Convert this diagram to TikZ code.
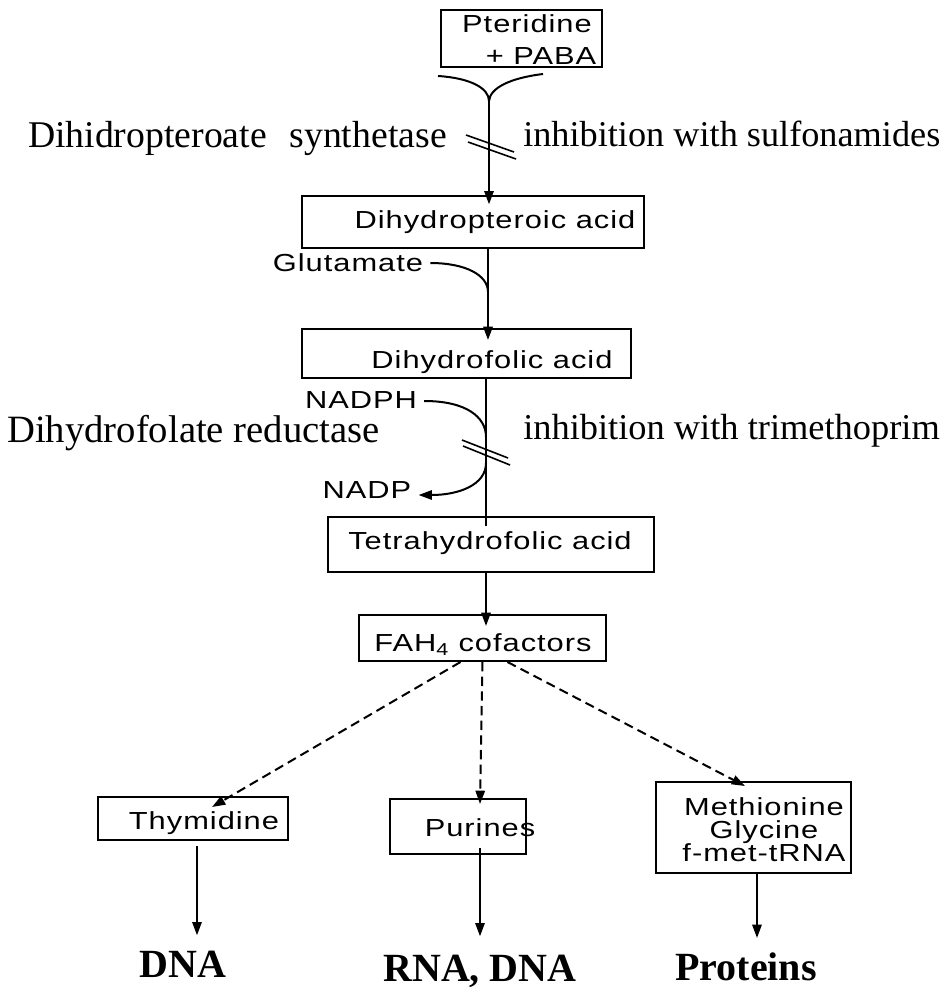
\documentclass[tikz,border=0pt]{standalone}
\usepackage{fontspec}
\setmainfont{Liberation Serif}
\newfontfamily\labfont[FakeStretch=1.25,LetterSpace=4]{Liberation Sans}
\usetikzlibrary{arrows.meta,calc}
\begin{document}
\begin{tikzpicture}[x=0.75pt,y=-0.75pt,
  box/.style={draw,line width=1.5pt,inner sep=0pt},
  lab/.style={font=\labfont\fontsize{18.5}{17.25}\selectfont,inner sep=0pt,align=center},
  big/.style={font=\fontsize{28.3}{32}\selectfont,inner sep=0pt},
  prod/.style={font=\bfseries\fontsize{30}{34}\selectfont,inner sep=0pt},
  con/.style={line width=1.5pt},
  arr/.style={con,-{Triangle[length=10pt,width=7pt]}},
  dsh/.style={arr,dash pattern=on 7pt off 4pt},
  slash/.style={line width=1.2pt}]
\fill[white] (0,0) rectangle (945,990);
\useasboundingbox (0,0) rectangle (945,990);

% boxes
\node[box,minimum width=120.75pt,minimum height=42.75pt] (b1) at (521.5,38.5) {};
\node[box,minimum width=256.5pt,minimum height=39pt] (b2) at (473,222) {};
\node[box,minimum width=246.75pt,minimum height=36.75pt] (b3) at (466.5,353.5) {};
\node[box,minimum width=244.5pt,minimum height=41.25pt] (b4) at (491,544.5) {};
\node[box,minimum width=185.25pt,minimum height=34.5pt] (b5) at (482.5,638) {};
\node[box,minimum width=142.5pt,minimum height=32.25pt] (b6) at (193,818.5) {};
\node[box,minimum width=102pt,minimum height=41.25pt] (b7) at (458,826.5) {};
\node[box,minimum width=146.25pt,minimum height=68.25pt] (b8) at (753.5,827.5) {};

% box texts
\node[lab] (t1a) at (527,24) {Pteridine};
\node[lab] (t1b) at (541,56) {+ PABA};
\node[lab] (t2) at (495,222) {Dihydropteroic acid};
\node[lab] (t3) at (492,362) {Dihydrofolic acid};
\node[lab] (t4) at (490,543) {Tetrahydrofolic acid};
\node[lab] (t5) at (483,645) {FAH\textsubscript{4} cofactors};
\node[lab] (t6) at (204,823) {Thymidine};
\node[lab] (t7) at (480,828) {Purines};
\node[lab] (t8) at (764,830) {Methionine\\Glycine\\f-met-tRNA};

% side labels
\node[lab] (gl) at (348,263) {Glutamate};
\node[lab] (np) at (361,400) {NADPH};
\node[lab] (nd) at (367,490) {NADP};

\node[big,anchor=mid east] (syn) at (447,144) {Dihidropteroate\hspace{0.6em}synthetase};
\node[big,anchor=mid west,font=\fontsize{27.2}{32}\selectfont] (inh1) at (523,143) {inhibition with sulfonamides};
\node[big,anchor=mid east,font=\fontsize{29}{32}\selectfont] (red) at (380,439) {Dihydrofolate reductase};
\node[big,anchor=mid west,font=\fontsize{27.3}{32}\selectfont] (inh2) at (523,436) {inhibition with trimethoprim};

\node[prod,anchor=base] (p1) at (183,977) {DNA};
\node[prod,anchor=base] (p2) at (480,981) {RNA, DNA};
\node[prod,anchor=base] (p3) at (746,980) {Proteins};

% Y junction
\coordinate (yj) at (489,101);
\draw[con] (438,76) .. controls (470,78) and (489,88) .. (yj);
\draw[con] (543,74) .. controls (510,78) and (490,88) .. (yj);
\draw[arr,shorten >=-7pt] (yj) -- (yj |- b2.north);

% slash 1
\coordinate (s1) at (490,147);
\draw[slash] (s1) ++(-24,-12) -- ++(48,17);
\draw[slash] (s1) ++(-22,-5) -- ++(48,17);

% glutamate
\coordinate (c2) at (488,0);
\coordinate (gj) at (488,292);
\draw[arr,shorten >=-9pt] (c2 |- b2.south) -- (c2 |- b3.north);
\draw[con] (gl.east) ++(7,0) .. controls +(35,0) and +(0,-17) .. (gj);

% dihydrofolic -> tetrahydrofolic
\coordinate (c3) at (486,0);
\coordinate (j2) at (486,437);
\coordinate (j3) at (486,463);
\draw[con,shorten >=-7.5pt] (c3 |- b3.south) -- (c3 |- b4.north);
\draw[con] (np.east) ++(7,1) .. controls +(42,0) and +(0,-20) .. (j2);
\draw[arr] (j3) .. controls +(0,22) and +(40,0) .. ($(nd.east)+(7,5)$);

% slash 2
\coordinate (s2) at (486,452);
\draw[slash] (s2) ++(-24,-12) -- ++(46,18);
\draw[slash] (s2) ++(-23,-6) -- ++(47,19);

% tetrahydrofolic -> FAH4
\draw[arr,shorten >=-9pt] (c3 |- b4.south) -- (c3 |- b5.north);

% dashed branches
\draw[dsh] ($(b5.south)+(-22,0)$) -- ($(b6.north)+(19,11)$);
\draw[dsh] (b5.south) -- ($(b7.north)+(22,6)$);
\draw[dsh] ($(b5.south)+(25,0)$) -- ($(b8.north)+(-8.5,5)$);

% products
\draw[arr] ($(b6.south)+(4,5)$) -- ($(p1.north)+(14,-15)$);
\draw[arr] ($(b7.south)+(22,-7)$) -- ($(p2.north)+(0,-18)$);
\draw[arr] ($(b8.south)+(3.5,0)$) -- ($(p3.north)+(11,-14)$);
\end{tikzpicture}
\end{document}
